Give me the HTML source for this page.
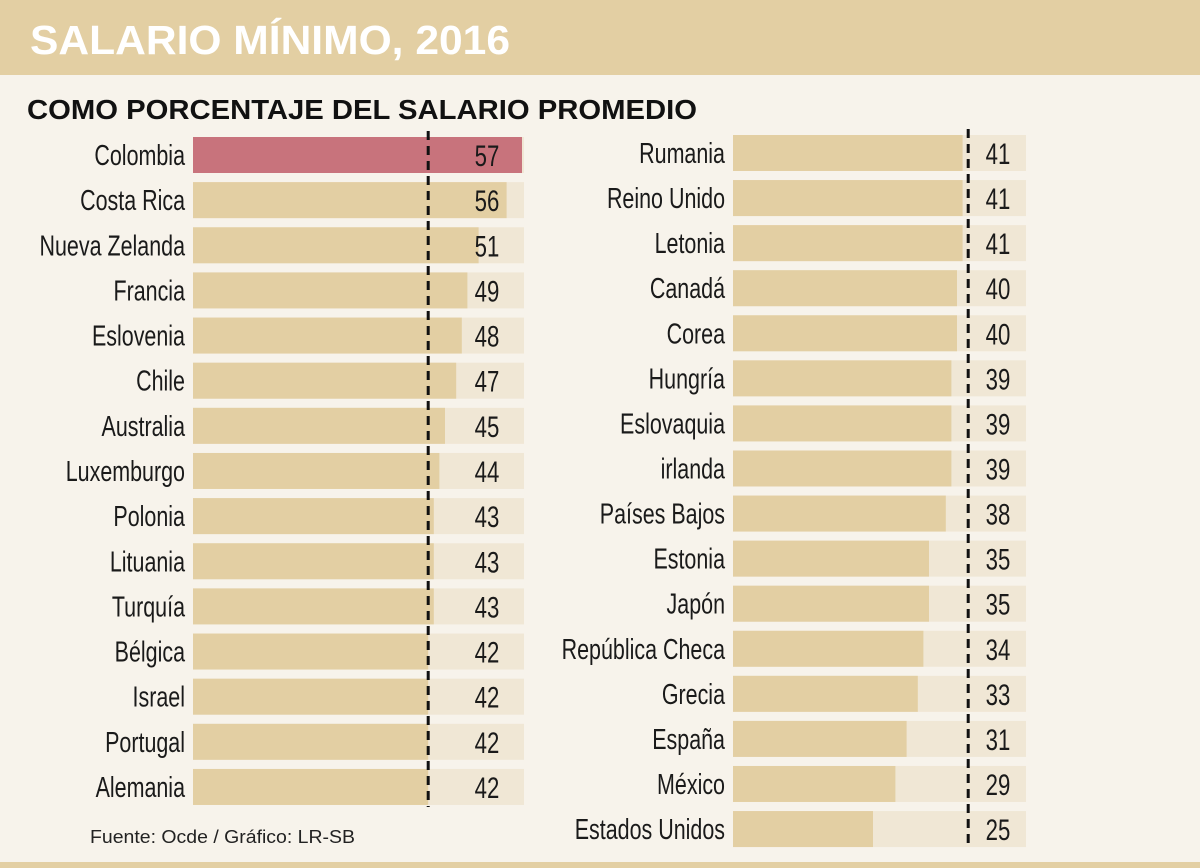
<!DOCTYPE html>
<html><head><meta charset="utf-8"><style>
body{margin:0;width:1200px;height:868px;background:#f7f3eb;overflow:hidden;font-family:"Liberation Sans",sans-serif}
svg{display:block}
</style></head><body>
<svg id="c" width="1200" height="868">
<rect x="0" y="0" width="1200" height="75" fill="#e3cfa3"/>
<text x="30" y="54" font-family="Liberation Sans" font-weight="bold" font-size="41" fill="#fff" textLength="480" lengthAdjust="spacingAndGlyphs">SALARIO MÍNIMO, 2016</text>
<text x="27" y="119" font-family="Liberation Sans" font-weight="bold" font-size="28" fill="#111" textLength="670" lengthAdjust="spacingAndGlyphs">COMO PORCENTAJE DEL SALARIO PROMEDIO</text>
<text x="90" y="843" font-family="Liberation Sans" font-size="18" fill="#222" textLength="265" lengthAdjust="spacingAndGlyphs">Fuente: Ocde / Gráfico: LR-SB</text>
<rect x="0" y="862" width="1200" height="6" fill="#e3cfa3"/>
<g id="g"></g>
</svg>
<script>
const leftCountries=["Colombia","Costa Rica","Nueva Zelanda","Francia","Eslovenia","Chile","Australia","Luxemburgo","Polonia","Lituania","Turquía","Bélgica","Israel","Portugal","Alemania"];
const leftValues=[57,56,51,49,48,47,45,44,43,43,43,42,42,42,42];
const rightCountries=["Rumania","Reino Unido","Letonia","Canadá","Corea","Hungría","Eslovaquia","irlanda","Países Bajos","Estonia","Japón","República Checa","Grecia","España","México","Estados Unidos"];
const rightValues=[41,41,41,40,40,39,39,39,38,35,35,34,33,31,29,25];
const refLine=[42];
const NS="http://www.w3.org/2000/svg";
const g=document.getElementById('g');
function mk(t,a,p){const e=document.createElementNS(NS,t);for(const k in a)e.setAttribute(k,a[k]);(p||g).appendChild(e);return e;}
const SC=5.6;
function ctext(str,x,y,anchor,size){
  const gg=mk('g',{transform:`translate(${x},${y}) scale(0.74,1)`});
  
  
  const t=mk('text',{x:0,y:0,'text-anchor':anchor,'font-size':size,fill:'#1a1a1a'},gg);
  t.textContent=str;
  return t;
}
function panel(names,vals,x0,trackEnd,y0,step,vx){
  const xs=v=>x0+v*SC;
  names.forEach((n,i)=>{
    const yc=y0+i*step;
    const tr=mk('rect',{x:x0,y:yc-18,width:trackEnd-x0,height:36,fill:'#f0e7d5'});
    
    
    const hl=(n==="Colombia");
    const b=mk('rect',{x:x0,y:yc-18,width:hl?(trackEnd-x0-2):(xs(vals[i])-x0),height:36,fill:hl?'#c8737c':'#e3cfa3'});
    
    
    const l=ctext(n,x0-8,yc+10,'end',29);
    
    
    const v=ctext(vals[i],vx,yc+11,'middle',30);
    
    
  });
  const rx=xs(refLine[0]);
  const d=mk('line',{x1:rx,x2:rx,y1:y0-24,y2:y0+(names.length-1)*step+20,stroke:'#111','stroke-width':3,'stroke-dasharray':'9 6'});
  
  
}
panel(leftCountries,leftValues,193,524,155,45.14,487);
panel(rightCountries,rightValues,733,1026,153,45.07,998);
</script>
</body></html>
